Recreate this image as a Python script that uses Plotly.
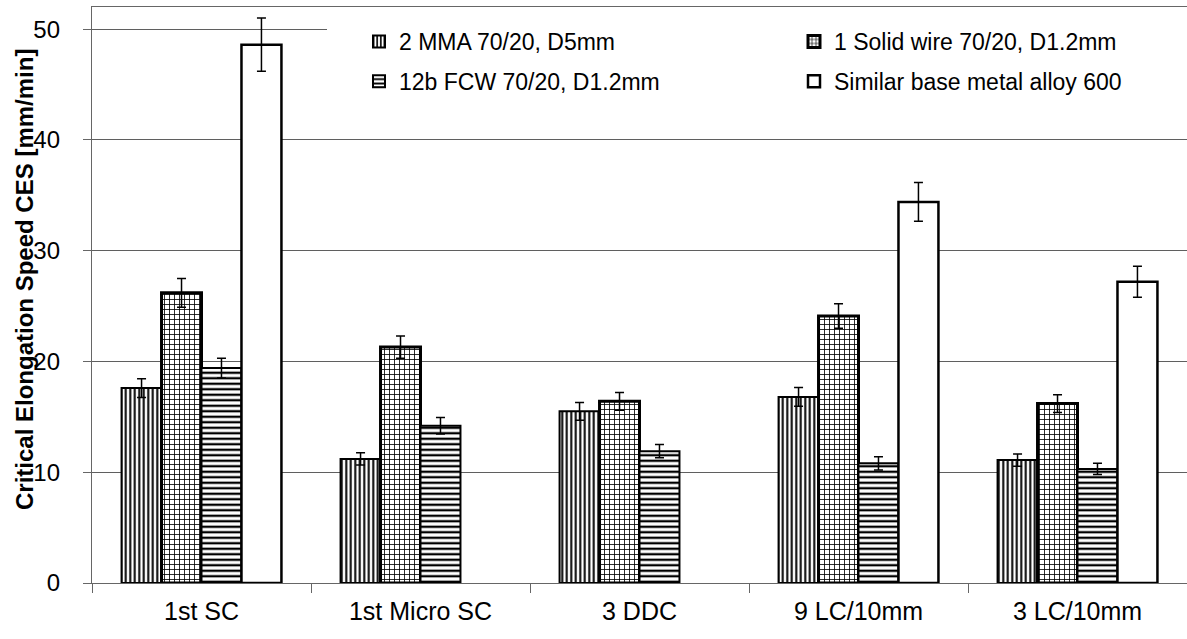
import plotly.graph_objects as go

# Categories (test type) and series names
categories = ["1st SC", "1st Micro SC", "3 DDC", "9 LC/10mm", "3 LC/10mm"]
series_names = [
    "2 MMA 70/20, D5mm",
    "1 Solid wire 70/20, D1.2mm",
    "12b FCW 70/20, D1.2mm",
    "Similar base metal alloy 600",
]

# Critical elongation speed CES [mm/min] and error (+/-)
mma = [17.6, 11.2, 15.5, 16.8, 11.1]
mma_err = [0.85, 0.55, 0.8, 0.85, 0.55]
solid = [26.2, 21.3, 16.4, 24.1, 16.2]
solid_err = [1.3, 1.0, 0.8, 1.1, 0.8]
fcw = [19.4, 14.2, 11.9, 10.8, 10.3]
fcw_err = [0.9, 0.75, 0.6, 0.6, 0.5]
base = [48.6, None, None, 34.4, 27.2]
base_err = [2.4, None, None, 1.75, 1.4]

y_ticks = [0, 10, 20, 30, 40, 50]

FONT = "Liberation Sans, Arial, sans-serif"

# pattern shape, tile size, solidity, outline width, legend entry width
styles = [
    ("|", 4.5, 0.45, 2.0, 358),
    ("+", 5.0, 0.30, 3.0, 348),
    ("-", 5.5, 0.42, 2.0, 358),
    ("", 8, 0.2, 2.5, 348),
]

values = [mma, solid, fcw, base]
errors = [mma_err, solid_err, fcw_err, base_err]

fig = go.Figure()
for name, vals, errs, (shape, size, solid_frac, lw, lwidth) in zip(series_names, values, errors, styles):
    fig.add_trace(go.Bar(
        x=categories,
        y=vals,
        name=name,
        legendgroup=name,
        legendwidth=lwidth,
        marker=dict(
            color="white",
            line=dict(color="black", width=lw),
            pattern=dict(shape=shape, fgcolor="black", bgcolor="white",
                         size=size, solidity=solid_frac, fillmode="replace"),
        ),
        error_y=dict(type="data", array=errs, color="black", thickness=1.5, width=4.5),
    ))

fig.update_layout(
    width=1187,
    height=639,
    margin=dict(l=92, r=0, t=7, b=56),
    paper_bgcolor="white",
    plot_bgcolor="white",
    barmode="group",
    bargap=0.27,
    bargroupgap=0,
    font=dict(family=FONT, color="black"),
    legend=dict(
        orientation="h",
        traceorder="grouped",
        x=(327 - 92) / 1095,
        xanchor="left",
        y=(583 - 20) / 576,
        yanchor="top",
        bgcolor="white",
        borderwidth=0,
        indentation=32,
        tracegroupgap=7,
        font=dict(family=FONT, size=23, color="black"),
    ),
    xaxis=dict(
        type="category",
        range=[-0.5, 4.5],
        tickson="boundaries",
        ticks="outside",
        ticklen=9,
        tickcolor="#666666",
        tickwidth=1.3,
        showline=True,
        linecolor="#666666",
        linewidth=1.3,
        mirror=True,
        showgrid=False,
        ticklabelstandoff=6,
        tickfont=dict(family=FONT, size=25, color="black"),
    ),
    yaxis=dict(
        range=[0, 52],
        tickvals=y_ticks,
        ticks="outside",
        ticklen=8,
        tickcolor="#666666",
        tickwidth=1.3,
        showline=True,
        linecolor="#666666",
        linewidth=1.3,
        zeroline=False,
        showgrid=True,
        gridcolor="#5f5f5f",
        gridwidth=1.3,
        ticklabelstandoff=18,
        tickfont=dict(family=FONT, size=24, color="black"),
    ),
    annotations=[dict(
        text="<b>Critical Elongation Speed CES [mm/min]</b>",
        xref="paper", yref="paper",
        x=(24 - 92) / 1095, y=(583 - 280) / 576,
        xanchor="center", yanchor="middle",
        textangle=-90,
        showarrow=False,
        font=dict(family=FONT, size=24, color="black"),
    )],
)

fig.write_html("out.html")
